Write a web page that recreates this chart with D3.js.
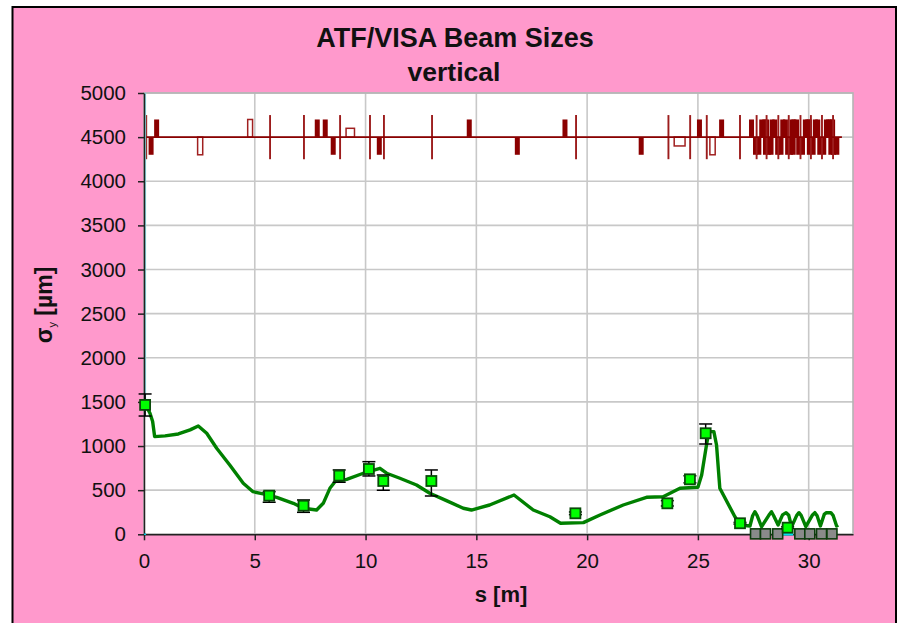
<!DOCTYPE html>
<html><head><meta charset="utf-8">
<script src="https://cdnjs.cloudflare.com/ajax/libs/d3/7.8.5/d3.min.js"></script>
<style>html,body{margin:0;padding:0;background:#fff}svg{display:block}text{font-family:"Liberation Sans",Arial,sans-serif;fill:#111}</style>
</head><body><svg id="c" width="902" height="623"></svg>
<script>
const titleLines=["ATF/VISA Beam Sizes","vertical"];
const xTicks=[0,5,10,15,20,25,30];
const yTicks=[0,500,1000,1500,2000,2500,3000,3500,4000,4500,5000];
const curveS=[0,0.05,0.27,0.39,0.48,0.95,1.55,2.08,2.45,2.83,3.28,3.87,4.48,4.92,5.38,5.99,6.74,7.19,7.79,8.09,8.39,8.62,9.15,9.9,10.65,10.95,11.55,12.3,12.9,13.65,14.41,14.78,15.6,16.7,17.57,18.32,18.8,19.83,20.58,21.63,22.68,23.43,24.19,25.0,25.17,25.4,25.5,25.72,25.84,25.99,26.67,26.89,27.35,27.47,27.57,27.67,27.87,28.2,28.32,28.42,28.62,28.82,28.98,29.1,29.23,29.46,29.56,29.66,29.87,30.16,30.28,30.38,30.53,30.7,30.8,31.0,31.1,31.26,31.33];
const curveV=[1500,1480,1372,1277,1107,1115,1137,1183,1228,1145,975,786,578,483,457,419,351,295,275,351,521,596,623,692,748,692,635,559,465,381,295,275,332,445,275,199,125,132,219,332,419,426,521,533,672,1032,1163,1163,1012,521,199,105,94,210,256,215,86,215,256,210,105,220,245,215,86,215,245,215,86,215,245,210,94,225,245,245,215,94,105];
const measS=[0.05,5.65,7.2,8.81,10.15,10.8,12.97,19.47,23.62,24.64,25.35,26.9,29.05];
const measV=[1466,438,324,665,740,604,604,238,351,623,1145,125,75];
const measHi=[1590,483,389,729,823,672,729,253,381,663,1250,135,85];
const measLo=[1340,363,249,590,661,499,434,223,321,583,1023,115,65];
const grayS=[27.6,28.05,28.6,29.6,30.05,30.58,31.05];
const grayV=[5,5,5,5,5,5,5];
const beamS=[0,31.5];
const thinS=[0.1,5.69,7.22,8.85,10.2,10.83,13.0,19.5,23.67,24.65,25.4,26.9,27.65,28.1,28.63,29.1,29.63,30.1,30.6,31.1];
const quadUpS=[0.57,7.82,8.18,14.68,19.0,25.07,26.07,27.42,27.88,28.02,28.1,28.35,28.47,28.83,28.95,29.25,29.33,29.45,29.85,29.96,30.03,30.3,30.41,30.8,30.9,31.0,31.08];
const quadDnS=[0.32,8.54,10.62,16.85,22.44,27.6,27.75,28.05,28.18,28.3,28.6,28.75,29.05,29.18,29.3,29.55,29.72,30.03,30.2,30.5,30.68,31.0,31.12,31.27];
const boxS0=[2.42,4.68,9.12,23.93,25.54];
const boxS1=[2.65,4.9,9.5,24.42,25.78];
const boxTip=[4300,4700,4600,4400,4300];
const beamV=4500,thinHi=4750,thinLo=4250,quadHi=4700,quadLo=4300;
const cyanS=[0,0];
const cyanV=[5000,1500];

const svg=d3.select("#c");
const x=d3.scaleLinear().domain([0,32]).range([144,853]);
const y=d3.scaleLinear().domain([0,5000]).range([534.3,93]);
const dark="#8b0000",green="#008000";
svg.append("rect").attr("x",12.5).attr("y",7).attr("width",883.5).attr("height",640).attr("fill","#ff99cc").attr("stroke","#000").attr("stroke-width",2);
svg.append("rect").attr("x",144).attr("y",93).attr("width",709).attr("height",441).attr("fill","#fff");
const grid=svg.append("g").attr("stroke","#c8c8c8").attr("stroke-width",1.6);
grid.selectAll("line.h").data(yTicks.filter(d=>d>0)).join("line").attr("x1",144).attr("x2",853).attr("y1",y).attr("y2",y);
grid.selectAll("line.v").data(xTicks.filter(d=>d>0)).join("line").attr("y1",93).attr("y2",534).attr("x1",x).attr("x2",x);
svg.append("rect").attr("x",144).attr("y",93).attr("width",709).attr("height",441).attr("fill","none").attr("stroke","#b4b4b4").attr("stroke-width",1.6);
// lattice
const lat=svg.append("g");
lat.selectAll("rect.up").data(quadUpS).join("rect").attr("x",d=>x(d)-2.5).attr("width",5).attr("y",y(quadHi)).attr("height",y(beamV)-y(quadHi)).attr("fill",dark);
lat.selectAll("rect.dn").data(quadDnS).join("rect").attr("x",d=>x(d)-2.5).attr("width",5).attr("y",y(beamV)).attr("height",y(quadLo)-y(beamV)).attr("fill",dark);
lat.selectAll("rect.box").data(boxS0).join("rect").attr("x",d=>x(d)).attr("width",(d,i)=>x(boxS1[i])-x(d)).attr("y",(d,i)=>Math.min(y(boxTip[i]),y(beamV))).attr("height",(d,i)=>Math.abs(y(boxTip[i])-y(beamV))).attr("fill","#fff").attr("stroke","#a02020").attr("stroke-width",1.5);
lat.selectAll("line.thin").data(thinS).join("line").attr("x1",x).attr("x2",x).attr("y1",y(thinHi)).attr("y2",y(thinLo)).attr("stroke","#9c1c1c").attr("stroke-width",1.9);
lat.append("line").attr("x1",x(beamS[0])).attr("x2",x(beamS[1])).attr("y1",y(beamV)).attr("y2",y(beamV)).attr("stroke","#8b0000").attr("stroke-width",1.8);
// cyan series hugging the axis
svg.append("line").attr("x1",x(cyanS[0])+1.4).attr("x2",x(cyanS[1])+1.4).attr("y1",y(cyanV[0])).attr("y2",y(cyanV[1])).attr("stroke","#8fe3ea").attr("stroke-width",1.4);
// axes
const ax=d3.axisLeft(y).tickValues(yTicks).tickFormat(d3.format("d")).tickSize(6).tickPadding(12).tickSizeOuter(0);
const ag=svg.append("g").attr("transform","translate(144,0)").call(ax);
const bx=d3.axisBottom(x).tickValues(xTicks).tickFormat(d3.format("d")).tickSize(6).tickPadding(13).tickSizeOuter(0);
const bg=svg.append("g").attr("transform","translate(0,534.3)").call(bx);
[ag,bg].forEach(g=>{g.selectAll("path,line").attr("stroke","#222").attr("stroke-width",1.5);g.selectAll("text").style("font-size","20.5px").style("fill","#111");});
// cyan baseline
svg.append("line").attr("x1",x(0)).attr("x2",x(0)+2).attr("y1",y(0)).attr("y2",y(0)).attr("stroke","#00c8e0").attr("stroke-width",1.6);
svg.append("line").attr("x1",x(28.8)).attr("x2",x(29.3)).attr("y1",y(0)-0.3).attr("y2",y(0)-0.3).attr("stroke","#00e0f0").attr("stroke-width",3);
// curve
const line=d3.line().x(d=>x(d[0])).y(d=>y(d[1]));
svg.append("path").attr("d",line(curveS.map((s,i)=>[s,curveV[i]]))).attr("fill","none").attr("stroke",green).attr("stroke-width",3.4).attr("stroke-linejoin","round");
// gray
svg.selectAll("rect.gray").data(grayS).join("rect").attr("x",d=>x(d)-5).attr("width",10).attr("y",(d,i)=>y(grayV[i])-5).attr("height",10).attr("fill","#8a8a8a").attr("stroke","#0c3c0c").attr("stroke-width",1.6);
// error bars
const eb=svg.append("g").attr("stroke","#000").attr("stroke-width",1.5);
measS.forEach((s,i)=>{
 eb.append("line").attr("x1",x(s)).attr("x2",x(s)).attr("y1",y(measHi[i])).attr("y2",y(measLo[i]));
 [measHi[i],measLo[i]].forEach(v=>eb.append("line").attr("x1",x(s)-6.5).attr("x2",x(s)+6.5).attr("y1",y(v)).attr("y2",y(v)));
});
svg.selectAll("rect.meas").data(measS).join("rect").attr("x",d=>x(d)-5).attr("width",10).attr("y",(d,i)=>y(measV[i])-5).attr("height",10).attr("fill","#00ff00").attr("stroke","#0a4a0a").attr("stroke-width",1.8);
// text
svg.append("text").attr("x",455).attr("y",47).attr("text-anchor","middle").attr("font-weight","bold").style("font-size","27px").text(titleLines[0]);
svg.append("text").attr("x",454).attr("y",81).attr("text-anchor","middle").attr("font-weight","bold").style("font-size","26.5px").text(titleLines[1]);
svg.append("text").attr("x",501).attr("y",602).attr("text-anchor","middle").attr("font-weight","bold").style("font-size","22px").text("s [m]");
const yl=svg.append("text").attr("transform","translate(52,305) rotate(-90)").attr("text-anchor","middle").attr("font-weight","bold").style("font-size","23px");
yl.append("tspan").text("σ");
yl.append("tspan").attr("dy",4).style("font-size","11px").style("font-weight","normal").text("y");
yl.append("tspan").attr("dy",-4).text(" [µm]");
</script></body></html>
